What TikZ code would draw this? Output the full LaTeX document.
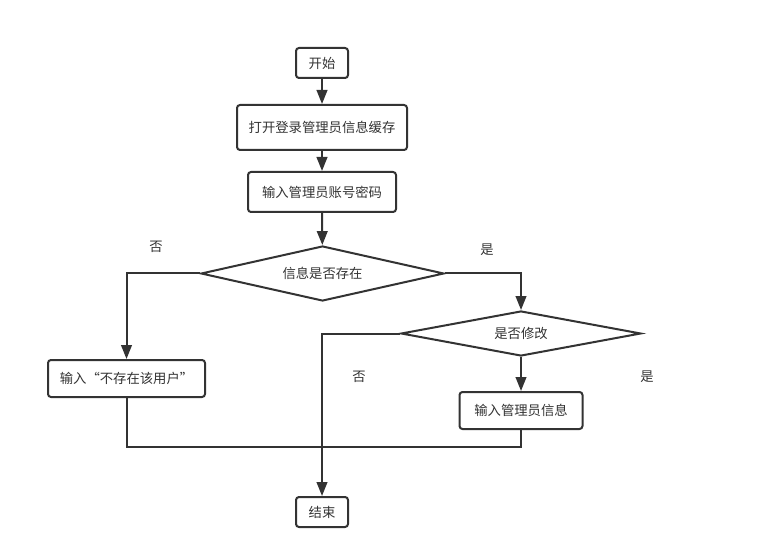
\documentclass[tikz,border=0pt]{standalone}
\usepackage{fontspec}
\setmainfont{Noto Sans CJK SC}
\usetikzlibrary{shapes.geometric,arrows.meta}
\definecolor{linegray}{HTML}{333333}
\begin{document}
\begin{tikzpicture}[x=0.75pt,y=-0.75pt]

\tikzset{mybox/.style={draw=linegray, line width=1.5pt, rounded corners=2.25pt, fill=white, text=linegray, font=\fontsize{10}{12}\selectfont, inner sep=0pt}}
\tikzset{mydiamond/.style={diamond, draw=linegray, line width=1.5pt, aspect=4.4, fill=white, text=linegray, font=\fontsize{10}{12}\selectfont, inner sep=0pt}}
\tikzset{mylabel/.style={text=linegray, font=\fontsize{10}{12}\selectfont}}
\tikzset{myarrow/.style={draw=linegray, line width=1.5pt, -{Triangle[length=10.5pt,width=8pt]}}}
\tikzset{myline/.style={draw=linegray, line width=1.5pt}}

\useasboundingbox (0,0) rectangle (759,559);

% boxes
\node[mybox, minimum width=39pt, minimum height=22.5pt] (start) at (322,63) {开始};
\node[mybox, minimum width=127.5pt, minimum height=33.75pt] (opencache) at (322,127.5) {打开登录管理员信息缓存};
\node[mybox, minimum width=111pt, minimum height=30pt] (login) at (322,192) {输入管理员账号密码};
\node[mydiamond, minimum width=182.25pt, minimum height=41.25pt] (exists) at (322.5,273.5) {信息是否存在};
\node[mydiamond, minimum width=180pt, minimum height=33.75pt] (modify) at (521,333.5) {是否修改};
\node[mybox, minimum width=117.75pt, minimum height=27.75pt] (nouser) at (126.5,378.5) {输入“不存在该用户”};
\node[mybox, minimum width=92.25pt, minimum height=27.75pt] (inputinfo) at (521,410.5) {输入管理员信息};
\node[mybox, minimum width=39pt, minimum height=22.5pt] (end) at (322,512) {结束};
\coordinate (merge) at (322,447);

% labels
\node[mylabel] (exno) at (156,247) {否};
\node[mylabel] (exyes) at (487,250) {是};
\node[mylabel] (modno) at (359,377) {否};
\node[mylabel] (modyes) at (647,377) {是};

% connectors
\draw[myarrow] (start) -- (opencache);
\draw[myarrow] (opencache) -- (login);
\draw[myarrow] (login) -- (exists);
\draw[myarrow] (exists.west) -| (nouser.north);
\draw[myarrow] (exists.east) -| (modify.north);
\draw[myarrow] (modify.south) -- (inputinfo.north);
\draw[myarrow] (modify.west) -| (end.north);
\draw[myline] (nouser.south) |- (merge) -| (inputinfo.south);

\end{tikzpicture}
\end{document}
